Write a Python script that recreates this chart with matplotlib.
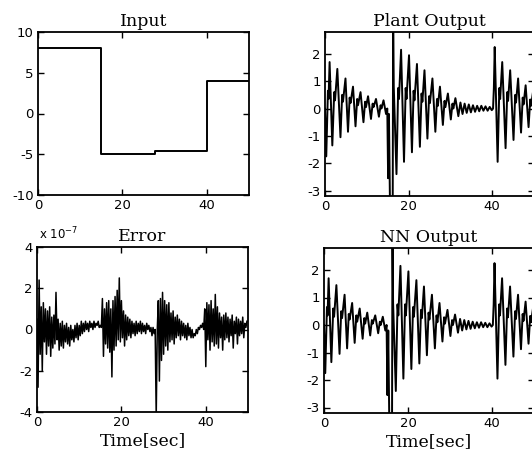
import numpy as np
import matplotlib
matplotlib.use('Agg')
import matplotlib.pyplot as plt

plt.rcParams['axes.unicode_minus'] = False

# Input: step levels
input_t = [0, 15, 15, 27.7, 27.7, 40, 40, 50]
input_v = [8, 8, -5, -5, -4.55, -4.55, 4, 4]

# Plant output: extrema (time, value)
plant_t = [0, 0.3, 0.7, 0.85, 1.1, 1.75, 2.2, 2.4, 2.95, 3.7, 4.1, 4.3, 4.9, 5.5,
           5.9, 6.1, 6.7, 7.3, 7.7, 7.9, 8.5, 9.2, 9.6, 9.8, 10.3, 11.0, 11.4, 11.6,
           12.2, 12.9, 13.3, 13.5, 14.0, 14.6, 14.9,
           15.1, 15.3, 15.55, 16.2, 16.3, 16.45, 17.1, 17.5, 17.7, 18.2, 18.9, 19.3,
           19.5, 20.1, 20.8, 21.2, 21.4, 22.0, 22.7, 23.1, 23.3, 23.8, 24.5, 24.9,
           25.1, 25.7, 26.4, 26.8, 27.0, 27.5, 28.2, 28.6, 28.8, 29.4, 30.1, 30.5,
           30.7, 31.2, 31.9, 32.4, 32.9, 33.4, 33.9, 34.4, 34.9, 35.4, 35.9, 36.4,
           36.9, 37.4, 37.9, 38.4, 38.9, 39.4, 39.9, 40.2,
           40.4, 40.6, 41.3, 41.7, 41.9, 42.4, 43.2, 43.6, 43.8, 44.3, 45.1, 45.5,
           45.7, 46.2, 46.9, 47.3, 47.5, 48.0, 48.7, 49.1, 49.3, 49.8, 50]
plant_v = [0, -1.75, 0.65, 0.35, 1.7, -1.35, 0.6, 0.3, 1.45, -1.05, 0.5, 0.25, 1.1, -0.85,
           0.4, 0.2, 0.8, -0.65, 0.35, 0.12, 0.6, -0.5, 0.25, 0.05, 0.45, -0.38, 0.18, 0.05,
           0.35, -0.3, 0.12, 0.0, 0.3, -0.2, 0.0,
           -2.55, -0.2, -3.6, -3.6, 3.6, 0.8, -2.4, 0.75, 0.35, 2.15, -1.95, 0.75,
           0.35, 1.95, -1.6, 0.65, 0.3, 1.63, -1.4, 0.55, 0.25, 1.4, -1.1, 0.45,
           0.2, 1.1, -0.85, 0.35, 0.1, 0.8, -0.6, 0.28, 0.05, 0.55, -0.4, 0.18,
           0.0, 0.38, -0.28, 0.22, -0.2, 0.18, -0.16, 0.15, -0.14, 0.12, -0.12, 0.1,
           -0.1, 0.1, -0.08, 0.08, -0.08, 0.06, -0.06, 0.0,
           0.75, 2.25, -1.95, 0.75, 0.35, 1.7, -1.45, 0.6, 0.28, 1.4, -1.15, 0.5,
           0.22, 1.1, -0.88, 0.4, 0.15, 0.85, -0.68, 0.33, 0.1, 0.65, 0.3]

# NN output tracks the plant output (identical at this scale)
nn_t = list(plant_t)
nn_v = list(plant_v)

# Error (x 1e-7), sampled every 0.25 s
err_step = 0.25
err_v = [0.5, -2.8, 2.4, -1.2, 1.1, -2.0, 1.3, -0.6, 1.0, -1.2, 0.9, -0.8, 1.1, -1.3, 0.6, -0.9, 0.7, -0.7, 1.8, -0.5,
         0.5, -1.0, 0.3, -0.8, 0.4, -0.9, 0.2, -0.6, 0.3, -0.7, 0.1, -0.8, 0.2, -0.5, 0.0, -0.6, 0.2, -0.4, 0.3, -0.5,
         0.2, -0.3, 0.4, -0.2, 0.3, -0.1, 0.4, 0.0, 0.3, -0.1, 0.4, 0.1, 0.3, 0.0, 0.4, 0.1, 0.3, 0.2, 0.4, 0.1,
         0.2, 0.1, 1.5, -1.3, 1.0, -0.7, 1.3, -0.9, 1.4, -1.1, 1.0, -2.3, 1.4, -1.0, 1.6, -0.8, 1.9, -0.5, 2.5, -0.6,
         1.4, -0.4, 0.9, -0.8, 0.7, -0.5, 0.6, -0.3, 0.5, -0.4, 0.4, -0.2, 0.3, -0.3, 0.4, -0.2, 0.3, -0.1, 0.4, -0.2,
         0.3, -0.1, 0.2, -0.2, 0.3, 0.0, 0.2, -0.1, 0.1, -0.3, 0.1, -0.2, 0.0, -4.2, 0.0, 1.4, -2.5, 1.5, -1.5, 1.8,
         -1.2, 1.4, -0.8, 1.2, -1.0, 1.3, -0.6, 0.8, -0.5, 0.9, -0.7, 0.6, -0.4, 0.7, -0.3, 0.5, -0.5, 0.4, -0.3, 0.3,
         -0.4, 0.2, -0.5, 0.3, -0.3, 0.1, -0.4, 0.0, -0.4, -0.2, -0.3, 0.0, -0.2, 0.1, 0.0, 0.2, 0.1, 0.3, 0.0, 1.0,
         -1.8, 1.3, -0.5, 1.2, -1.0, 1.4, -0.6, 1.0, -0.8, 1.7, -0.7, 1.1, -0.9, 0.8, -0.4, 0.6, -1.0, 0.7, -0.5, 0.8,
         -0.4, 0.6, -0.6, 0.5, -0.3, 0.7, -0.9, 0.4, -0.2, 0.6, -0.7, 0.5, -0.3, 0.4, -0.2, 0.6, -0.4, 0.3, 0.1, 0.4]
err_t = np.arange(len(err_v)) * err_step

TITLE_FONT = dict(family='DejaVu Serif', size=12.5)
TICK_FONT = 'DejaVu Sans'

W, H = 532, 459
fig = plt.figure(figsize=(W / 100, H / 100), dpi=100)


# axes placed in pixel coords (left, top, right, bottom)
def make_axes(l, t, r, b):
    return fig.add_axes([l / W, 1 - b / H, (r - l) / W, (b - t) / H])


def style(ax, xlim, ylim, yticks):
    ax.set_xlim(*xlim)
    ax.set_ylim(*ylim)
    ax.set_xticks([0, 20, 40])
    ax.set_yticks(yticks)
    ax.tick_params(direction='in', length=4, width=1, top=True, right=True,
                   labelsize=9.5, pad=3)
    for lab in ax.get_xticklabels() + ax.get_yticklabels():
        lab.set_family(TICK_FONT)
    for s in ax.spines.values():
        s.set_linewidth(1.3)


ax1 = make_axes(38, 32, 249, 195)
ax1.plot(input_t, input_v, color='black', lw=1.4)
style(ax1, (0, 50), (-10, 10), [-10, -5, 0, 5, 10])
ax1.set_title('Input', pad=4, **TITLE_FONT)

ax2 = make_axes(325, 32, 534, 196)
ax2.plot(plant_t, plant_v, color='black', lw=1.4)
style(ax2, (0, 50), (-3.2, 2.8), [-3, -2, -1, 0, 1, 2])
ax2.set_title('Plant Output', pad=4, **TITLE_FONT)

ax3 = make_axes(37, 247, 248, 412)
ax3.plot(err_t, err_v, color='black', lw=1.1)
style(ax3, (0, 50), (-4, 4), [-4, -2, 0, 2, 4])
ax3.set_title('Error', pad=4, **TITLE_FONT)
ax3.set_xlabel('Time[sec]', labelpad=2, **TITLE_FONT)
fig.text(39 / W, 1 - 239 / H, r'x 10$^{-7}$', fontsize=8.5, family=TICK_FONT,
         va='baseline')

ax4 = make_axes(324, 248, 534, 413)
ax4.plot(nn_t, nn_v, color='black', lw=1.4)
style(ax4, (0, 50), (-3.2, 2.8), [-3, -2, -1, 0, 1, 2])
ax4.set_title('NN Output', pad=4, **TITLE_FONT)
ax4.set_xlabel('Time[sec]', labelpad=2, **TITLE_FONT)

fig.savefig('out.png', dpi=100)
